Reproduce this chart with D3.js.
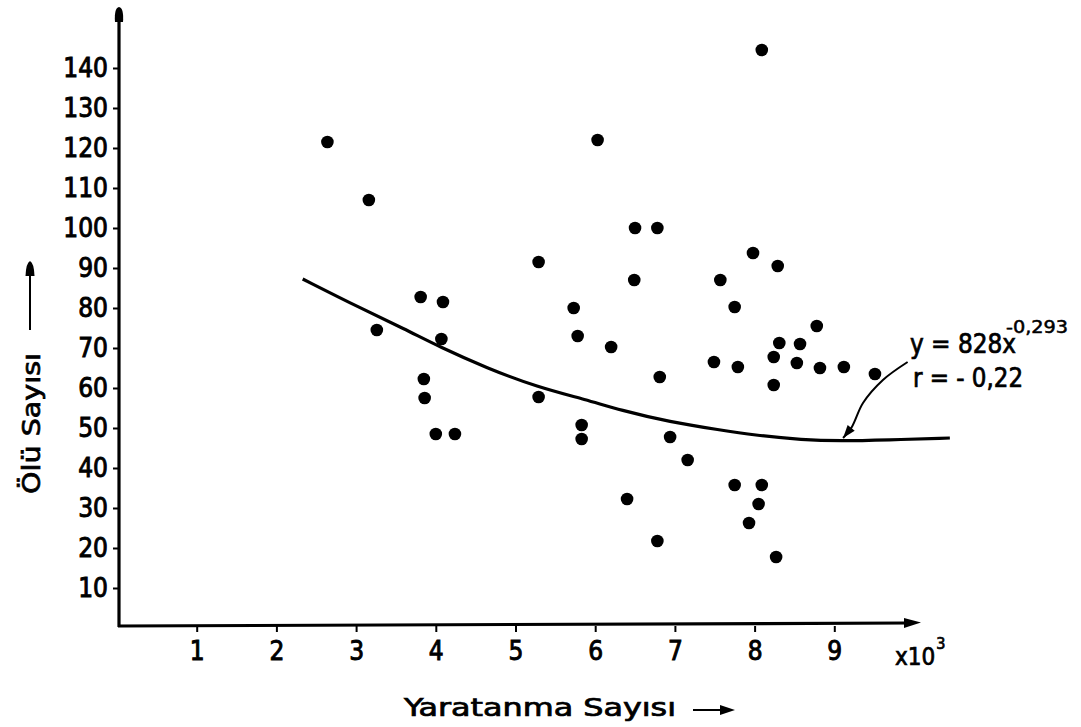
<!DOCTYPE html>
<html>
<head>
<meta charset="utf-8">
<script src="https://cdn.jsdelivr.net/npm/d3@7"></script>
<style>
  html, body { margin: 0; padding: 0; background: #fff; }
  svg { display: block; }
  text { font-family: "DejaVu Sans Condensed", "DejaVu Sans", sans-serif; fill: #000; }
</style>
</head>
<body>
<svg id="chart" width="1081" height="727"></svg>
<script>
'use strict';

/* ── data ── */
// x: Yaralanma sayısı (x10^3), y: Ölü sayısı
const POINT_X = [2.64, 3.16, 3.26, 3.81, 4.09, 4.07, 3.85, 3.86, 4.00, 4.24,
                 5.29, 5.29, 5.73, 5.78, 5.83, 5.83, 6.03, 6.20, 6.40, 6.50,
                 6.49, 6.78, 6.78, 6.81, 6.94, 7.16, 7.49, 7.57, 7.75, 7.79,
                 7.98, 8.09, 8.29, 8.31, 8.24, 8.24, 8.57, 8.53, 8.78, 8.82,
                 9.12, 9.51, 7.75, 8.09, 8.05, 7.93, 8.27];
const POINT_Y = [121.5, 107, 74.5, 82.75, 81.5, 72.25, 62.25, 57.5, 48.5, 48.5,
                 91.5, 57.75, 80, 73, 50.75, 47.25, 122, 70.25, 32.25, 100,
                 87, 21.75, 100, 62.75, 47.75, 42, 66.5, 87, 80.25, 65.25,
                 93.75, 144.5, 90.5, 71.25, 67.75, 60.75, 71, 66.25, 75.5, 65,
                 65.25, 63.5, 35.75, 35.75, 31, 26.25, 17.75];

// fitted curve as drawn in the figure
const CURVE_X = [2.33, 3.05, 3.61, 4.05, 4.64, 5.27, 5.90, 6.31, 6.94, 7.57, 7.98, 8.61, 9.07, 9.66, 10.45];
const CURVE_Y = [87.25, 80, 74.75, 70.25, 65, 60.25, 57, 54.5, 51.5, 49.5, 48.25, 47, 46.75, 47, 47.5];

// annotation arrow from equation to curve
const ARROW_X = [9.92, 9.61, 9.36, 9.22, 9.11];
const ARROW_Y = [66.5, 62, 56.25, 50.25, 47.5];

const X_TICKS = [1, 2, 3, 4, 5, 6, 7, 8, 9];
const Y_TICKS = [10, 20, 30, 40, 50, 60, 70, 80, 90, 100, 110, 120, 130, 140];

const X_TITLE = 'Yaratanma Sayısı';
const Y_TITLE = 'Ölü Sayısı';
const EQ_MAIN = 'y = 828x';
const EQ_EXP = '-0,293';
const EQ_R = 'r = - 0,22';

/* ── scales ── */
const svg = d3.select('#chart');
const x = d3.scaleLinear().domain([0, 10]).range([117, 914]);
const y = d3.scaleLinear().domain([0, 150]).range([628, 28]);

const X0 = 119, Y0 = 626;

/* ── axes ── */
const axisX = svg.append('g').attr('transform', `translate(0,${Y0})`)
  .call(d3.axisBottom(x).tickValues(X_TICKS).tickSize(6).tickPadding(10).tickFormat(d3.format('d')));
axisX.select('.domain').remove();
axisX.selectAll('line').attr('stroke', '#000').attr('stroke-width', 2);
axisX.selectAll('text').attr('font-size', 26).attr('dy', '0.71em').attr('fill', '#000');

const axisY = svg.append('g').attr('transform', `translate(${X0},0)`)
  .call(d3.axisLeft(y).tickValues(Y_TICKS).tickSize(6).tickPadding(5).tickFormat(d3.format('d')));
axisY.select('.domain').remove();
axisY.selectAll('line').attr('stroke', '#000').attr('stroke-width', 2);
axisY.selectAll('text').attr('font-size', 26).attr('fill', '#000');

svg.selectAll('.tick text').attr('stroke', '#000').attr('stroke-width', 0.9);

// axis lines with arrowheads
svg.append('line').attr('x1', X0).attr('y1', Y0 + 1).attr('x2', X0).attr('y2', 14)
  .attr('stroke', '#000').attr('stroke-width', 3.2);
svg.append('path').attr('d', `M${X0 - 4},22 Q${X0 - 5},8 ${X0},7 Q${X0 + 5},8 ${X0 + 4},22 Z`).attr('fill', '#000');

svg.append('line').attr('x1', X0 - 1).attr('y1', Y0).attr('x2', 908).attr('y2', 623)
  .attr('stroke', '#000').attr('stroke-width', 3.2);
svg.append('path').attr('d', 'M904,618 L921,622.5 L904,628 Z').attr('fill', '#000');

// x10^3
const mult = svg.append('text').attr('x', 895).attr('y', 665).attr('font-size', 24)
  .attr('stroke', '#000').attr('stroke-width', 0.7);
mult.append('tspan').text('x10');
mult.append('tspan').attr('font-size', 16).attr('dy', -16).attr('dx', 1).text('3');

/* ── titles ── */
svg.append('text').attr('x', 404).attr('y', 716).attr('font-size', 25)
  .attr('textLength', 272).attr('lengthAdjust', 'spacingAndGlyphs')
  .attr('stroke', '#000').attr('stroke-width', 0.7)
  .text(X_TITLE);
svg.append('line').attr('x1', 693).attr('y1', 710).attr('x2', 722).attr('y2', 710)
  .attr('stroke', '#000').attr('stroke-width', 2);
svg.append('path').attr('d', 'M720,705 L735,710 L720,715 Z').attr('fill', '#000');

svg.append('text').attr('transform', 'translate(40,494) rotate(-90)').attr('font-size', 25)
  .attr('textLength', 141).attr('lengthAdjust', 'spacingAndGlyphs')
  .attr('stroke', '#000').attr('stroke-width', 0.7)
  .text(Y_TITLE);
svg.append('line').attr('x1', 30).attr('y1', 330).attr('x2', 30).attr('y2', 272)
  .attr('stroke', '#000').attr('stroke-width', 2);
svg.append('path').attr('d', 'M25.5,276 Q26,263 30,261 Q34,263 34.5,276 Z').attr('fill', '#000');

/* ── fitted curve ── */
const smooth = d3.line().x(d => x(d[0])).y(d => y(d[1])).curve(d3.curveBasis);
svg.append('path').datum(d3.zip(CURVE_X, CURVE_Y)).attr('d', smooth)
  .attr('fill', 'none').attr('stroke', '#000').attr('stroke-width', 3.2);

/* ── points ── */
svg.append('g').selectAll('circle').data(d3.zip(POINT_X, POINT_Y)).join('circle')
  .attr('cx', d => x(d[0])).attr('cy', d => y(d[1])).attr('r', 6.3).attr('fill', '#000');

/* ── equation + arrow ── */
const arrowPts = d3.zip(ARROW_X, ARROW_Y);
const thru = d3.line().x(d => x(d[0])).y(d => y(d[1])).curve(d3.curveCatmullRom);
svg.append('path').datum(arrowPts).attr('d', thru)
  .attr('fill', 'none').attr('stroke', '#000').attr('stroke-width', 2);
const tip = arrowPts[arrowPts.length - 1], prev = arrowPts[arrowPts.length - 2];
const tx = x(tip[0]), ty = y(tip[1]);
const ang = Math.atan2(ty - y(prev[1]), tx - x(prev[0]));
const hl = 13, hw = 4.5;
const bx = tx - hl * Math.cos(ang), by = ty - hl * Math.sin(ang);
svg.append('path')
  .attr('d', `M${tx},${ty} L${bx + hw * Math.sin(ang)},${by - hw * Math.cos(ang)} L${bx - hw * Math.sin(ang)},${by + hw * Math.cos(ang)} Z`)
  .attr('fill', '#000');

svg.append('text').attr('x', 910).attr('y', 353).attr('font-size', 26)
  .attr('textLength', 106).attr('lengthAdjust', 'spacingAndGlyphs')
  .attr('stroke', '#000').attr('stroke-width', 0.7).text(EQ_MAIN);
svg.append('text').attr('x', 1006).attr('y', 333).attr('font-size', 18)
  .attr('textLength', 62).attr('lengthAdjust', 'spacingAndGlyphs')
  .attr('stroke', '#000').attr('stroke-width', 0.5).text(EQ_EXP);
svg.append('text').attr('x', 913).attr('y', 387).attr('font-size', 26)
  .attr('textLength', 110).attr('lengthAdjust', 'spacingAndGlyphs')
  .attr('stroke', '#000').attr('stroke-width', 0.7).text(EQ_R);
</script>
</body>
</html>
